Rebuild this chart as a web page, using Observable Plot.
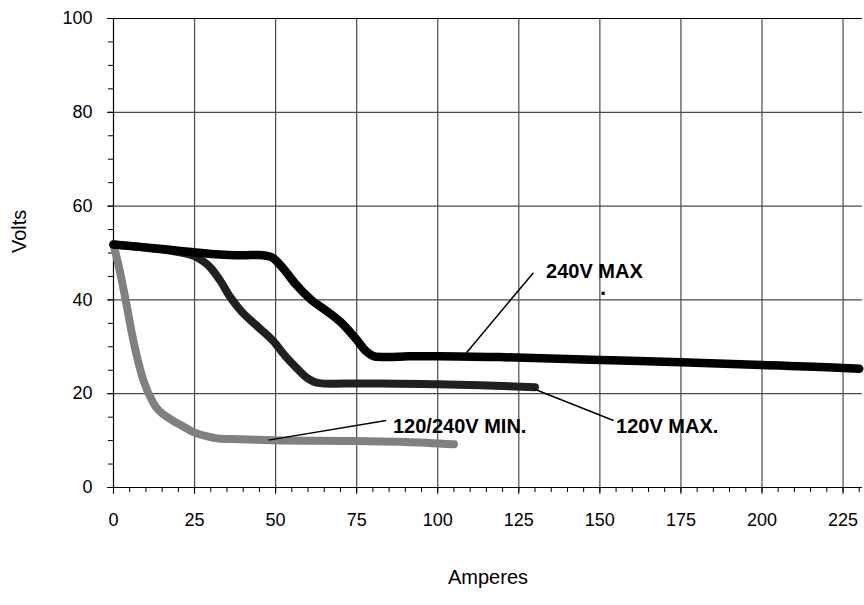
<!DOCTYPE html>
<html><head><meta charset="utf-8">
<script src="https://cdn.jsdelivr.net/npm/d3@7"></script>
<script src="https://cdn.jsdelivr.net/npm/@observablehq/plot@0.6"></script>
<style>
body{margin:0;background:#fff;}
#chart svg{display:block;}
</style>
</head><body><div id="chart"></div>
<script>
// ---- data ----
const xTicks = [0, 25, 50, 75, 100, 125, 150, 175, 200, 225];
const yTicks = [0, 20, 40, 60, 80, 100];
const xGrid = [25, 50, 75, 100, 125, 150, 175, 200, 225];
const yGrid = [20, 40, 60, 80];
const xMinor = d3.range(0, 231, 5);
const yMinor = d3.range(0, 101, 5);

const amps240Max  = [0, 10, 20, 30, 40, 45, 48.5, 52, 56, 61, 66, 70, 75, 78, 81, 85, 91, 100, 119, 150, 175, 200, 225, 230];
const volts240Max = [51.8, 51.2, 50.5, 49.8, 49.5, 49.6, 49.2, 47, 43.5, 40, 37.5, 35.3, 31.5, 29, 27.9, 27.8, 28.0, 28.0, 27.8, 27.2, 26.7, 26.1, 25.5, 25.3];

const amps120Max  = [0, 10, 20, 25, 30, 33, 36, 39, 44, 49.3, 53, 56, 60, 63, 67, 75, 82, 100, 113, 130];
const volts120Max = [51.8, 51.1, 50.2, 49.3, 46.8, 44, 40.6, 37.9, 34.6, 31.2, 28, 25.8, 23.2, 22.3, 22.1, 22.2, 22.2, 22.0, 21.8, 21.4];

const ampsMin  = [0, 2, 3.6, 6.1, 9.2, 12.3, 17.5, 21, 24.7, 29, 33, 39, 49.3, 75, 90, 105];
const voltsMin = [51.8, 46, 40.5, 31.4, 22.9, 18, 14.6, 13.2, 11.8, 10.9, 10.4, 10.3, 10.1, 9.9, 9.7, 9.2];

const labelText = ["240V MAX", "120V MAX.", "120/240V MIN."];
const labelX = [133.4, 155.0, 86.2];
const labelY = [46.1, 12.9, 12.9];
const leaderX1 = [129.5, 130.1, 47.8];
const leaderY1 = [45.8, 20.9, 10.1];
const leaderX2 = [108.8, 154.2, 84.1];
const leaderY2 = [28.7, 14.3, 14.3];
const strayDot = [{x: 151.0, y: 41.4}];

const xLabel = "Amperes";
const yLabel = "Volts";

// ---- build tables ----
const toRows = (xs, ys) => xs.map((x, i) => ({x, y: ys[i]}));
const s240 = toRows(amps240Max, volts240Max);
const s120 = toRows(amps120Max, volts120Max);
const sMin = toRows(ampsMin, voltsMin);
const labels = labelText.map((t, i) => ({t, x: labelX[i], y: labelY[i]}));
const leaders = labelText.map((t, i) => ({x1: leaderX1[i], y1: leaderY1[i], x2: leaderX2[i], y2: leaderY2[i]}));

const font = "'Liberation Sans', Arial, Helvetica, sans-serif";
const gridColor = "#4a4a4a";

const chart = Plot.plot({
  width: 864,
  height: 605,
  marginLeft: 113,
  marginRight: 2,
  marginTop: 18,
  marginBottom: 118,
  style: {fontFamily: font, background: "#fff", color: "#000"},
  x: {domain: [0, 231], label: null},
  y: {domain: [0, 100], label: null},
  marks: [
    Plot.gridX(xGrid, {stroke: gridColor, strokeOpacity: 1, strokeWidth: 1.2}),
    Plot.gridY(yGrid, {stroke: gridColor, strokeOpacity: 1, strokeWidth: 1.2}),
    Plot.ruleY([100], {stroke: "#000", strokeWidth: 1.2}),
    Plot.ruleY([0], {stroke: "#000", strokeWidth: 1.2}),
    Plot.ruleX([0], {stroke: "#000", strokeWidth: 1.2}),
    Plot.axisX(xMinor, {tickSize: 5, tickFormat: () => "", label: null, strokeWidth: 1}),
    Plot.axisY(yMinor, {tickSize: 5, tickFormat: () => "", label: null, strokeWidth: 1}),
    Plot.axisX(xTicks, {tickSize: 7, tickPadding: 19, fontSize: 18, label: null, strokeWidth: 1}),
    Plot.axisY(yTicks, {tickSize: 6, tickPadding: 15, fontSize: 18, label: null, strokeWidth: 1}),
    Plot.line(sMin, {x: "x", y: "y", stroke: "#808080", strokeWidth: 8, curve: "monotone-x", strokeLinecap: "round", strokeLinejoin: "round"}),
    Plot.line(s120, {x: "x", y: "y", stroke: "#231f20", strokeWidth: 8, curve: "monotone-x", strokeLinecap: "round", strokeLinejoin: "round"}),
    Plot.line(s240, {x: "x", y: "y", stroke: "#000", strokeWidth: 8.5, curve: "monotone-x", strokeLinecap: "round", strokeLinejoin: "round"}),
    Plot.link(leaders, {x1: "x1", y1: "y1", x2: "x2", y2: "y2", stroke: "#000", strokeWidth: 1.5}),
    Plot.dot(strayDot, {x: "x", y: "y", symbol: "square", r: 1.8, fill: "#000", stroke: null}),
    Plot.text(labels, {x: "x", y: "y", text: "t", textAnchor: "start", lineAnchor: "middle", fontSize: 20, fontWeight: "bold", fill: "#000"}),
    Plot.text([xLabel], {frameAnchor: "bottom", dy: 96, fontSize: 20, fill: "#000"}),
    Plot.text([yLabel], {frameAnchor: "left", dx: -94, rotate: -90, fontSize: 20, fill: "#000"})
  ]
});
document.getElementById("chart").appendChild(chart);
</script>
</body></html>
